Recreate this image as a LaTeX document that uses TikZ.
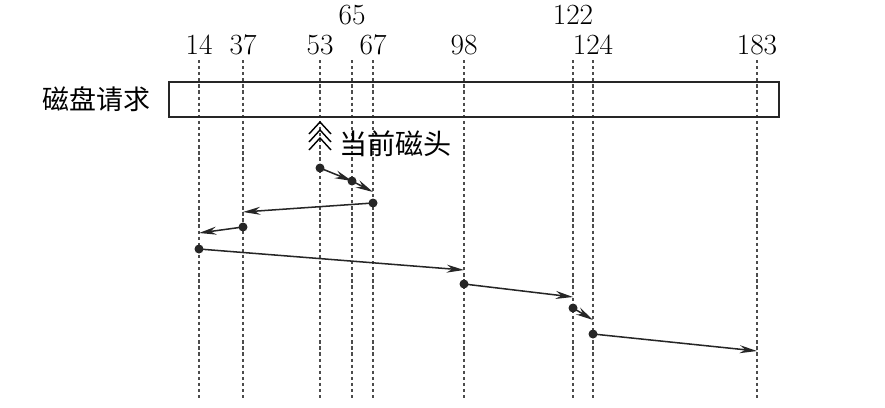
\documentclass[tikz,border=0pt]{standalone}
\usepackage{fontspec}
\newfontfamily\cjk{Noto Sans CJK SC}
\usepackage{tikz}
\usetikzlibrary{arrows.meta, positioning}
\tikzstyle{track} = [draw, line width=1.8pt, dash pattern=on 2.8pt off 2.4pt, black!70]
\tikzstyle{seek}  = [draw, line width=1.3pt, black!85, -{Stealth[length=0.52cm, width=0.24cm]}]
\tikzstyle{o}     = [circle, fill=black!85, inner sep=0pt, minimum size=0.27cm]
\tikzstyle{num}   = [inner sep=0pt, font=\fontsize{25}{28}\selectfont]

\begin{document}
\begin{tikzpicture}[x=0.03cm, y=-0.03cm]
\useasboundingbox (0,0) rectangle (885,407);

% cylinders
\foreach \cyl/\px/\py in {14/199/45, 37/243/45, 53/320/45, 65/352/15, 67/373/45,
                          98/464/45, 122/573/15, 124/593/45, 183/757/45} {
	\node [num] (n\cyl) at (\px,\py) {\cyl};
	\coordinate (top\cyl) at (\px,60);
	\coordinate (bot\cyl) at (\px,400);
	\path [track] (top\cyl) -- (bot\cyl);
}

% request queue
\node [draw, line width=2.3pt, black!85, minimum width=18.3cm, minimum height=1.05cm] (disk) at (474,99.5) {};
\node [left=0.5cm of disk, inner sep=0pt, font=\cjk\fontsize{23}{26}\selectfont] (queue) {磁盘请求};

% current head
\coordinate (head) at (320,122);
\foreach \dy in {0,8,16}
	\draw [line width=1.2pt] ([xshift=-0.33cm, yshift=-0.36cm-\dy*0.03cm]head) -- ([yshift=-\dy*0.03cm]head) -- ([xshift=0.33cm, yshift=-0.36cm-\dy*0.03cm]head);
\node [anchor=west, inner sep=0pt, font=\cjk\fontsize{24}{26}\selectfont] (headtxt) at (339,144) {当前磁头};

% service order
\node [o] (s53)  at (320,168) {};
\node [o] (s65)  at (352,181) {};
\node [o] (s67)  at (373,203) {};
\node [o] (s37)  at (243,227) {};
\node [o] (s14)  at (199,249) {};
\node [o] (s98)  at (464,284) {};
\node [o] (s122) at (573,308) {};
\node [o] (s124) at (593,334) {};

\coordinate (e65)  at (352,181);
\coordinate (e67)  at (373,192);
\coordinate (e37)  at (243,212);
\coordinate (e14)  at (199,233);
\coordinate (e98)  at (464,270);
\coordinate (e122) at (573,297);
\coordinate (e124) at (593,320);
\coordinate (e183) at (757,351);

\path [seek] (s53.center)  -- (e65);
\path [seek] (s65.center)  -- (e67);
\path [seek] (s67.center)  -- (e37);
\path [seek] (s37.center)  -- (e14);
\path [seek] (s14.center)  -- (e98);
\path [seek] (s98.center)  -- (e122);
\path [seek] (s122.center) -- (e124);
\path [seek] (s124.center) -- (e183);

\end{tikzpicture}
\end{document}
